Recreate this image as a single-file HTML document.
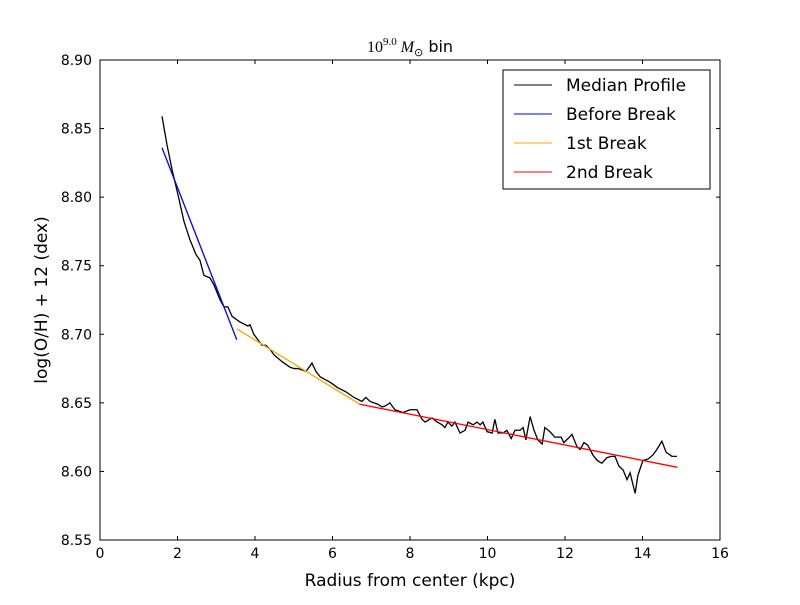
<!DOCTYPE html>
<html><head><meta charset="utf-8"><style>
body{margin:0;background:#fff;}
svg text{font-family:"DejaVu Sans","Liberation Sans",sans-serif;}
</style></head><body>
<svg id="chart" width="800" height="600" xmlns="http://www.w3.org/2000/svg">
<rect width="800" height="600" fill="#fff"/>
<g id="marks"></g>
<rect x="100" y="60" width="620" height="480" fill="none" stroke="#000" stroke-width="1"/>
<g id="ticks"></g>
<text x="410" y="52" text-anchor="middle" font-size="16"><tspan font-family="Liberation Serif,serif">10</tspan><tspan font-family="Liberation Serif,serif" font-size="11" dy="-7">9.0</tspan><tspan font-family="Liberation Serif,serif" font-style="italic" dy="7"> M</tspan><tspan font-size="11" dy="4">⊙</tspan><tspan dy="-4"> bin</tspan></text>
<text x="410" y="586" text-anchor="middle" font-size="17">Radius from center (kpc)</text>
<text transform="translate(47,300) rotate(-90)" text-anchor="middle" font-size="17">log(O/H) + 12 (dex)</text>
<g>
<rect x="503" y="70" width="207" height="119" fill="#fff" stroke="#000" stroke-width="1"/>
<line x1="514" y1="85" x2="552" y2="85" stroke="#000"/>
<text x="566" y="91" font-size="17">Median Profile</text>
<line x1="514" y1="114" x2="552" y2="114" stroke="#0000ff"/>
<text x="566" y="120" font-size="17">Before Break</text>
<line x1="514" y1="143" x2="552" y2="143" stroke="#ffa500"/>
<text x="566" y="149" font-size="17">1st Break</text>
<line x1="514" y1="172" x2="552" y2="172" stroke="#ff0000"/>
<text x="566" y="178" font-size="17">2nd Break</text>
</g>
</svg>
<script>
const radius=[1.60,1.73,1.86,2.01,2.17,2.32,2.48,2.58,2.68,2.84,2.94,3.10,3.20,3.30,3.41,3.61,3.82,3.87,3.97,4.18,4.28,4.39,4.49,4.70,4.90,5.01,5.11,5.32,5.47,5.57,5.68,5.94,6.14,6.35,6.55,6.76,6.86,6.97,7.17,7.28,7.38,7.48,7.61,7.82,8.00,8.18,8.31,8.39,8.57,8.70,8.83,8.90,8.98,9.08,9.16,9.29,9.42,9.50,9.63,9.73,9.81,9.88,9.99,10.12,10.19,10.27,10.40,10.50,10.61,10.71,10.84,10.92,10.99,11.10,11.20,11.30,11.41,11.48,11.61,11.74,11.90,11.97,12.08,12.18,12.31,12.39,12.49,12.59,12.72,12.83,12.95,13.08,13.19,13.29,13.39,13.50,13.60,13.68,13.81,13.88,14.01,14.14,14.27,14.37,14.50,14.61,14.76,14.89];
const median=[8.859,8.838,8.820,8.802,8.782,8.769,8.758,8.754,8.743,8.741,8.736,8.725,8.720,8.720,8.713,8.709,8.706,8.707,8.700,8.692,8.692,8.689,8.685,8.680,8.676,8.675,8.675,8.673,8.679,8.673,8.669,8.665,8.661,8.658,8.654,8.651,8.654,8.651,8.649,8.647,8.648,8.650,8.645,8.643,8.645,8.645,8.638,8.636,8.639,8.636,8.634,8.632,8.636,8.633,8.636,8.628,8.630,8.636,8.634,8.636,8.634,8.636,8.629,8.628,8.638,8.628,8.628,8.630,8.624,8.630,8.630,8.632,8.623,8.640,8.630,8.623,8.620,8.632,8.629,8.625,8.625,8.621,8.624,8.627,8.618,8.616,8.621,8.619,8.612,8.608,8.606,8.610,8.611,8.611,8.604,8.601,8.594,8.599,8.584,8.597,8.608,8.609,8.612,8.616,8.622,8.614,8.611,8.611];
const beforeX=[1.60,3.53], beforeY=[8.836,8.696];
const firstX=[3.53,6.70], firstY=[8.704,8.649];
const secondX=[6.70,14.90], secondY=[8.649,8.603];
const xTicks=[0,2,4,6,8,10,12,14,16];
const yTicks=[8.55,8.60,8.65,8.70,8.75,8.80,8.85,8.90];
const NS='http://www.w3.org/2000/svg';
const sx=v=>100+(v-0)/16*620;
const sy=v=>540-(v-8.55)/0.35*480;
const marks=document.getElementById('marks');
function line(xs,ys,color,name){
  const p=document.createElementNS(NS,'polyline');
  p.setAttribute('points',xs.map((x,i)=>sx(x)+','+sy(ys[i])).join(' '));
  p.setAttribute('fill','none');p.setAttribute('stroke',color);p.setAttribute('stroke-width','1.3');
  
  
  marks.appendChild(p);
}
line(radius,median,'#000','median-profile-line');
line(beforeX,beforeY,'#0000ff','before-break-line');
line(firstX,firstY,'#ffa500','first-break-line');
line(secondX,secondY,'#ff0000','second-break-line');
const tg=document.getElementById('ticks');
xTicks.forEach(t=>{
  const x=sx(t);
  [[540,536],[60,64]].forEach(([a,b])=>{const l=document.createElementNS(NS,'line');l.setAttribute('x1',x);l.setAttribute('x2',x);l.setAttribute('y1',a);l.setAttribute('y2',b);l.setAttribute('stroke','#000');tg.appendChild(l);});
  const tx=document.createElementNS(NS,'text');tx.setAttribute('x',x);tx.setAttribute('y',558);tx.setAttribute('text-anchor','middle');tx.setAttribute('font-size','14');tx.textContent=t;
  
  
  tg.appendChild(tx);
});
yTicks.forEach(t=>{
  const y=sy(t);
  [[100,104],[720,716]].forEach(([a,b])=>{const l=document.createElementNS(NS,'line');l.setAttribute('y1',y);l.setAttribute('y2',y);l.setAttribute('x1',a);l.setAttribute('x2',b);l.setAttribute('stroke','#000');tg.appendChild(l);});
  const tx=document.createElementNS(NS,'text');tx.setAttribute('x',92);tx.setAttribute('y',y+5);tx.setAttribute('text-anchor','end');tx.setAttribute('font-size','14');tx.textContent=t.toFixed(2);
  
  
  tg.appendChild(tx);
});
</script>
</body></html>
